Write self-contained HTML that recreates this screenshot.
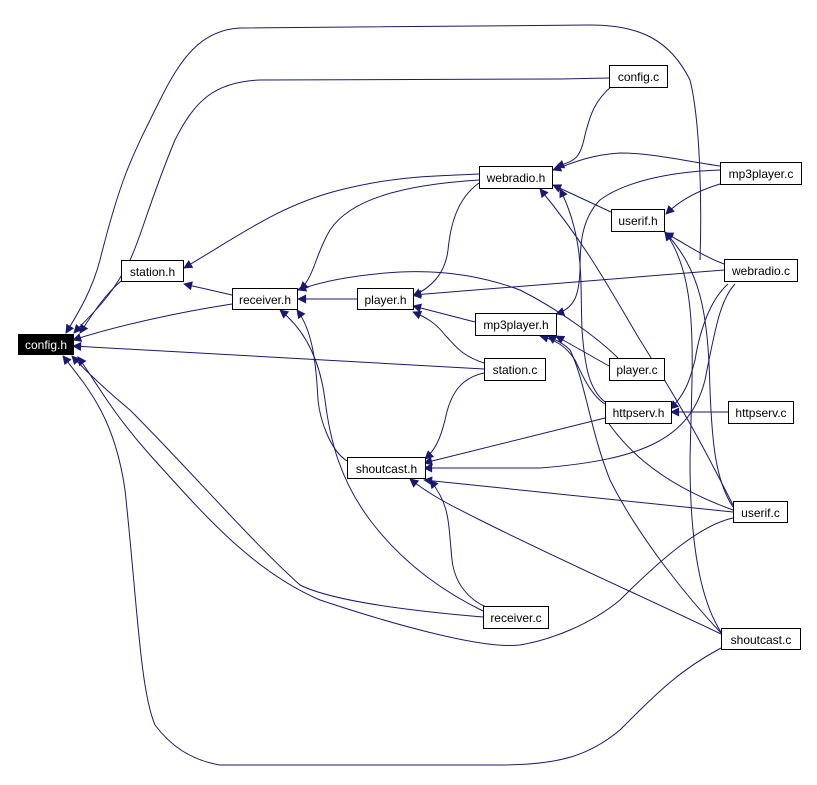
<!DOCTYPE html>
<html><head><meta charset="utf-8"><style>
html,body{margin:0;padding:0;background:#fff;}
svg{display:block;}
text{font-family:"Liberation Sans",sans-serif;font-size:12px;fill:#000;}
.e{fill:none;stroke:#191970;stroke-width:1;}
.n{fill:#fff;stroke:#000;stroke-width:1;}
</style></head><body>
<svg width="817" height="785" viewBox="0 0 817 785" xmlns="http://www.w3.org/2000/svg">
<defs><marker id="a" viewBox="0 0 10 10" refX="9" refY="5" markerWidth="13" markerHeight="9" orient="auto" markerUnits="userSpaceOnUse"><path d="M0,0 L10,5 L0,10 z" fill="#191970"/></marker></defs>
<g class="e" marker-end="url(#a)">
<path d="M700,260 C702,200 700,120 690,80 C670,40 640,25 590,25 L240,28 C200,30 180,60 160,100 C130,160 120,180 100,260 C92,290 80,310 66,333"/>
<path d="M609,78 L560,79 L260,80 C215,82 195,100 175,140 C150,200 140,240 130,260 C110,300 90,315 74,333"/>
<path d="M121,281 C105,295 95,310 80,333"/>
<path d="M232,304 C180,312 120,325 73,340"/>
<path d="M484,369 L73,346"/>
<path d="M483,617 C400,610 330,600 300,585 C250,540 190,470 130,410 C100,385 85,370 72,356"/>
<path d="M733,518 C700,525 660,560 620,600 C590,625 550,640 520,645 C480,650 380,620 320,600 C250,570 200,510 150,455 C110,410 95,380 78,357"/>
<path d="M721,648 C680,670 660,690 620,730 C590,755 560,765 500,765 L220,765 C190,760 170,745 155,725 C140,690 137,600 125,490 C115,420 90,390 63,356"/>
<path d="M479,174 C440,176 400,175 340,190 C280,205 240,235 184,268"/>
<path d="M232,295 L184,284"/>
<path d="M479,180 C400,185 350,200 330,230 C315,255 315,275 300,290"/>
<path d="M357,299 L298,299"/>
<path d="M618,358 C600,340 560,310 520,290 C480,275 440,270 400,272 C350,275 320,282 298,290"/>
<path d="M347,461 C330,450 320,420 318,400 C316,360 312,330 297,310"/>
<path d="M483,611 C440,590 400,560 370,520 C340,480 330,440 325,400 C320,360 305,330 280,310"/>
<path d="M479,183 C455,200 450,230 448,250 C445,275 430,288 413,296"/>
<path d="M724,270 L413,295"/>
<path d="M475,322 L413,306"/>
<path d="M484,363 C460,355 455,345 445,335 C435,322 425,317 413,312"/>
<path d="M612,86 C595,100 590,115 585,135 C580,160 575,160 556,167"/>
<path d="M720,166 C680,160 650,153 620,153 C590,155 575,162 553,170"/>
<path d="M611,212 L553,185"/>
<path d="M605,402 C590,390 585,370 582,330 C580,280 585,240 560,189"/>
<path d="M733,505 C710,460 690,420 640,340 C610,290 590,250 540,189"/>
<path d="M720,184 C700,190 680,200 666,214"/>
<path d="M724,264 C700,255 685,243 665,233"/>
<path d="M733,507 C715,480 712,440 710,390 C708,310 700,270 665,232"/>
<path d="M721,632 C700,600 690,540 690,460 C692,360 700,280 665,232"/>
<path d="M720,170 C660,172 620,185 600,200 C580,220 580,250 580,270 C579,295 575,308 556,314"/>
<path d="M609,366 L556,336"/>
<path d="M605,404 C590,395 580,370 575,360 C565,345 555,340 540,336"/>
<path d="M721,633 C690,600 640,540 610,480 C590,430 585,380 570,350 C562,342 555,340 548,336"/>
<path d="M728,412 L671,412"/>
<path d="M728,284 C710,300 700,330 695,360 C690,380 685,395 670,409"/>
<path d="M484,373 C460,378 450,395 445,420 C440,440 435,450 425,459"/>
<path d="M605,418 L424,463"/>
<path d="M735,284 C720,300 715,330 705,380 C690,440 640,460 540,468 L424,468"/>
<path d="M733,512 L424,480"/>
<path d="M721,634 C650,600 560,560 480,520 C450,505 430,495 410,479"/>
<path d="M486,607 C470,600 455,585 452,560 C448,520 450,505 430,480"/>
</g>
<path class="e" d="M605,418 C620,440 650,480 733,510"/>
<rect x="18.5" y="334.5" width="55" height="20" fill="#000" stroke="#000"/>
<text x="46" y="349" text-anchor="middle" style="fill:#fff">config.h</text>
<g>
<rect class="n" x="121.5" y="260.5" width="62" height="21"/><text x="152.5" y="276" text-anchor="middle">station.h</text>
<rect class="n" x="232.5" y="288.5" width="65" height="21"/><text x="265" y="304" text-anchor="middle">receiver.h</text>
<rect class="n" x="357.5" y="288.5" width="56" height="21"/><text x="385.5" y="304" text-anchor="middle">player.h</text>
<rect class="n" x="479.5" y="166.5" width="73" height="22"/><text x="516" y="182" text-anchor="middle">webradio.h</text>
<rect class="n" x="609.5" y="65.5" width="58" height="22"/><text x="638.5" y="81" text-anchor="middle">config.c</text>
<rect class="n" x="720.5" y="162.5" width="81" height="22"/><text x="761" y="178" text-anchor="middle">mp3player.c</text>
<rect class="n" x="611.5" y="209.5" width="53" height="22"/><text x="638" y="225" text-anchor="middle">userif.h</text>
<rect class="n" x="724.5" y="259.5" width="73" height="22"/><text x="761" y="275" text-anchor="middle">webradio.c</text>
<rect class="n" x="475.5" y="313.5" width="81" height="22"/><text x="516" y="329" text-anchor="middle">mp3player.h</text>
<rect class="n" x="484.5" y="358.5" width="61" height="22"/><text x="515" y="374" text-anchor="middle">station.c</text>
<rect class="n" x="609.5" y="358.5" width="55" height="22"/><text x="637" y="374" text-anchor="middle">player.c</text>
<rect class="n" x="605.5" y="401.5" width="66" height="22"/><text x="638.5" y="417" text-anchor="middle">httpserv.h</text>
<rect class="n" x="728.5" y="401.5" width="65" height="22"/><text x="761" y="417" text-anchor="middle">httpserv.c</text>
<rect class="n" x="347.5" y="457.5" width="78" height="21"/><text x="386.5" y="473" text-anchor="middle">shoutcast.h</text>
<rect class="n" x="733.5" y="501.5" width="54" height="21"/><text x="760.5" y="517" text-anchor="middle">userif.c</text>
<rect class="n" x="483.5" y="606.5" width="65" height="22"/><text x="516" y="622" text-anchor="middle">receiver.c</text>
<rect class="n" x="721.5" y="628.5" width="79" height="21"/><text x="761" y="644" text-anchor="middle">shoutcast.c</text>
</g>
</svg>
</body></html>
